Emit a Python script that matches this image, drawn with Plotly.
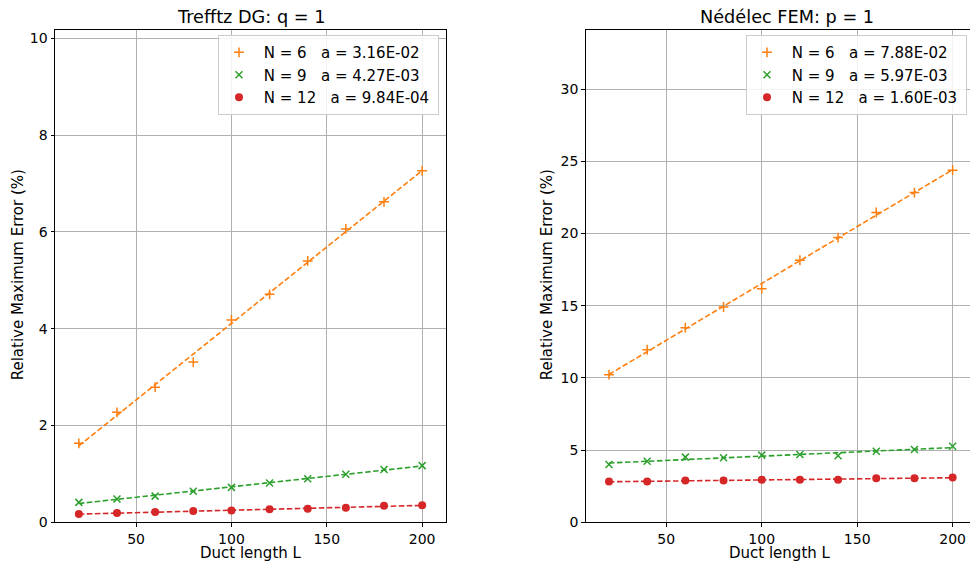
import numpy as np
import plotly.graph_objects as go

# ---------------- data ----------------
duct_length = [20, 40, 60, 80, 100, 120, 140, 160, 180, 200]

trefftz_n6 = [1.63, 2.27, 2.79, 3.31, 4.18, 4.71, 5.40, 6.06, 6.62, 7.26]
trefftz_n9 = [0.41, 0.48, 0.54, 0.64, 0.72, 0.81, 0.90, 0.99, 1.09, 1.17]
trefftz_n12 = [0.17, 0.19, 0.21, 0.23, 0.24, 0.27, 0.28, 0.30, 0.34, 0.35]

nedelec_n6 = [10.22, 11.95, 13.48, 14.91, 16.18, 18.15, 19.72, 21.46, 22.84, 24.39]
nedelec_n9 = [4.00, 4.23, 4.51, 4.47, 4.65, 4.69, 4.60, 4.92, 5.04, 5.27]
nedelec_n12 = [2.82, 2.82, 2.89, 2.89, 2.94, 2.94, 2.94, 3.05, 3.05, 3.10]

trefftz_labels = ["\u00a0N = 6\u00a0\u00a0\u00a0a = 3.16E-02\u2009",
                  "\u00a0N = 9\u00a0\u00a0\u00a0a = 4.27E-03\u2009",
                  "\u00a0N = 12\u00a0\u00a0\u00a0a = 9.84E-04\u2009"]
nedelec_labels = ["\u00a0N = 6\u00a0\u00a0\u00a0a = 7.88E-02\u2009",
                  "\u00a0N = 9\u00a0\u00a0\u00a0a = 5.97E-03\u2009",
                  "\u00a0N = 12\u00a0\u00a0\u00a0a = 1.60E-03\u2009"]

x_ticks = [50, 100, 150, 200]
left_y_ticks = [0, 2, 4, 6, 8, 10]
right_y_ticks = [0, 5, 10, 15, 20, 25, 30]

# ---------------- styles ----------------
W = 970
SY = 0.985          # vertical compensation for the capture
H = round(563 / SY)
FONT = "DejaVu Sans"
colors = ["#ff7f0e", "#2ca02c", "#d62728"]
markers = [
    dict(symbol="cross-thin", size=7, line=dict(width=1.5)),
    dict(symbol="x-thin", size=7, line=dict(width=1.5)),
    dict(symbol="circle", size=8, line=dict(width=0)),
]


def py(ref_px):
    """reference pixel row -> paper fraction"""
    return 1 - (ref_px / SY) / H


fig = go.Figure()


def add_panel(series, labels, xa, ya, legend_name):
    x = np.array(duct_length, dtype=float)
    for s, lab, c, m in zip(series, labels, colors, markers):
        y = np.array(s, dtype=float)
        slope, icpt = np.polyfit(x, y, 1)
        fig.add_trace(go.Scatter(
            x=x, y=slope * x + icpt, mode="lines",
            line=dict(color=c, width=1.6, dash="5.5px,2.5px"),
            xaxis=xa, yaxis=ya, showlegend=False, hoverinfo="skip"))
        mk = dict(m)
        mk["color"] = c
        if "line" in mk:
            mk["line"] = dict(mk["line"], color=c)
        fig.add_trace(go.Scatter(
            x=x, y=y, mode="markers", marker=mk, name=lab,
            xaxis=xa, yaxis=ya, legend=legend_name))


add_panel([trefftz_n6, trefftz_n9, trefftz_n12], trefftz_labels, "x", "y", "legend")
add_panel([nedelec_n6, nedelec_n9, nedelec_n12], nedelec_labels, "x2", "y2", "legend2")

ydom = [py(521.7), py(30)]

axis_common = dict(
    showgrid=True, gridcolor="#b0b0b0", gridwidth=0.8,
    showline=True, linecolor="black", linewidth=1,
    ticks="outside", ticklen=3.5, tickwidth=1, tickcolor="black",
    tickfont=dict(family=FONT, size=14, color="black"),
    zeroline=False,
)

legend_common = dict(
    xanchor="right", y=py(35), yanchor="top",
    bgcolor="rgba(255,255,255,0.85)", bordercolor="#cccccc", borderwidth=1,
    font=dict(family=FONT, size=15, color="black"), tracegroupgap=0,
    itemwidth=30,
)

fig.update_layout(
    width=W, height=H,
    margin=dict(l=0, r=0, t=0, b=0),
    paper_bgcolor="white", plot_bgcolor="white",
    font=dict(family=FONT, size=14, color="black"),
    xaxis=dict(domain=[55 / W, 446 / W], range=[7.5, 212.5], tickvals=x_ticks,
               anchor="y", mirror=True, **axis_common),
    yaxis=dict(domain=ydom, range=[0, 10.17], tickvals=left_y_ticks,
               anchor="x", mirror=True, **axis_common),
    xaxis2=dict(domain=[585.7 / W, 1.0], range=[7.8, 209.1], tickvals=x_ticks,
                anchor="y2", mirror=True, **axis_common),
    yaxis2=dict(domain=ydom, range=[0, 34.1], tickvals=right_y_ticks,
                anchor="x2", mirror=False, **axis_common),
    legend=dict(x=439 / W, **legend_common),
    legend2=dict(x=967 / W, **legend_common),
)

ann = []


def add_text(text, xpx, ypx, size, angle=0):
    ann.append(dict(text=text, x=xpx / W, y=py(ypx), xref="paper", yref="paper",
                    showarrow=False, textangle=angle, xanchor="center", yanchor="middle",
                    font=dict(family=FONT, size=size, color="black")))


add_text("Trefftz DG: q = 1", 250.5, 17, 17.7)
add_text("Nédélec FEM: p = 1", 786.7, 17, 17.7)
add_text("Duct length L", 250.5, 552.5, 15)
add_text("Duct length L", 780.3, 552.5, 15)
add_text("Relative Maximum Error (%)", 17.5, 274.5, 15, -90)
add_text("Relative Maximum Error (%)", 547, 275, 15, -90)
fig.update_layout(annotations=ann)

fig.write_html(
    "out.html",
    config={"displayModeBar": False},
    post_script="document.body.style.margin='0';document.body.style.overflow='hidden';"
                "document.documentElement.style.overflow='hidden';",
)
